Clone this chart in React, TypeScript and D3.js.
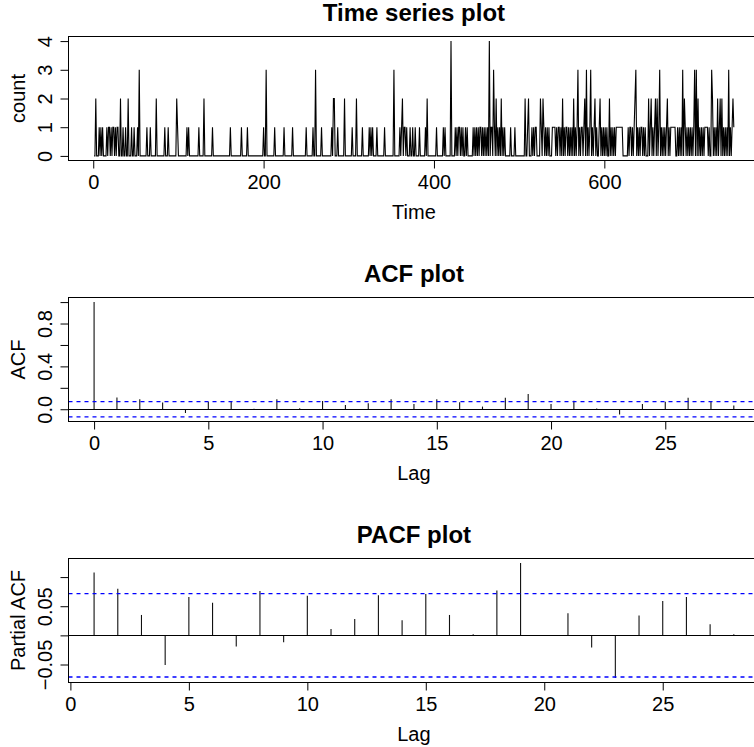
import React, { useEffect, useRef } from 'react';
import * as d3 from 'd3';

// counts per time step (one digit per step, 50 per row)
const countRows = [
  '00200010101000010110101101011002001001002000100100',
  '01030000000010001000000200000000010001000000000210',
  '00000000010100000000000100000200000000010000000000',
  '00000000001000000000000100000010000000000000000001',
  '00300000000010000000000100000000010000000000000001',
  '00000001003000000100000000000102200010000000200000',
  '00010000200000010000000101010000100000000100000000',
  '00300000010120110100010010010000100000010200000000',
  '00100000001010000004000010101101010010100000010101',
  '01011010101010401103102010102010100000010000100000',
  '00000020012000101011000021021010101000111101011010',
  '20101101010102010130101101203010130101201001201010',
  '10100201010101111111100000010110101230101011010100',
  '02012010120201301010101201011111100101010302101010',
  '10101303020101010111101003201010201202010101030101',
  '21',
];
const counts: number[] = countRows.join('').split('').map(Number);

// autocorrelations, lags 0..28
const acfValues = [
  1.0, 0.11, 0.093, 0.062, -0.035, 0.071, 0.071, 0.005, 0.093, 0.01,
  0.077, 0.04, 0.056, 0.093, 0.05, 0.093, 0.065, 0.025, 0.108, 0.142,
  0.05, 0.08, 0.006, -0.05, 0.05, 0.071, 0.108, 0.077, 0.034,
];
// partial autocorrelations, lags 1..28
const pacfValues = [
  0.108, 0.08, 0.035, -0.051, 0.066, 0.056, -0.019, 0.076, -0.012, 0.068,
  0.011, 0.028, 0.069, 0.026, 0.071, 0.035, 0.002, 0.077, 0.124, -0.001,
  0.038, -0.021, -0.073, 0.034, 0.059, 0.066, 0.019, 0.002,
];

const timeTicks = [0, 200, 400, 600];
const countTicks = [0, 1, 2, 3, 4];
const lagTicks = [0, 5, 10, 15, 20, 25];
const acfTicks = [0, 0.2, 0.4, 0.6, 0.8, 1.0];
const acfTickLabels = ['0.0', '', '0.4', '', '0.8', ''];
const pacfTicks = [-0.05, 0, 0.05, 0.1];
const pacfTickLabels = ['\u22120.05', '', '0.05', ''];

const FONT = '"Liberation Sans", Arial, sans-serif';
const left = 68.5;
const right = 759.4;

// R style 4% axis expansion
const rPad = (lo: number, hi: number): [number, number] => {
  const d = (hi - lo) * 0.04;
  return [lo - d, hi + d];
};

// snap a horizontal line onto a pixel row so it stays crisp
const crisp = (v: number) => Math.round(v - 0.5) + 0.5;

const App = () => {
  const svgRef = useRef<SVGSVGElement>(null);

  useEffect(() => {
    const svg = d3.select(svgRef.current);
    svg.selectAll('*').remove();

    svg.append('rect').attr('width', 754).attr('height', 747).attr('fill', '#fff');

    const frame = (top: number, bottom: number, title: string, xLab: string, yLab: string) => {
      const cx = (left + right) / 2;
      svg.append('text')
        .attr('x', cx).attr('y', top - 16)
        .attr('text-anchor', 'middle')
        .attr('font-family', FONT).attr('font-size', 24).attr('font-weight', 'bold')
        .text(title);
      svg.append('text')
        .attr('x', cx).attr('y', bottom + 58.5)
        .attr('text-anchor', 'middle')
        .attr('font-family', FONT).attr('font-size', 20)
        .text(xLab);
      svg.append('text')
        .attr('transform', `translate(25,${(top + bottom) / 2}) rotate(-90)`)
        .attr('text-anchor', 'middle')
        .attr('font-family', FONT).attr('font-size', 20)
        .text(yLab);
    };

    const box = (top: number, bottom: number) => {
      svg.append('rect')
        .attr('x', left).attr('y', top)
        .attr('width', right - left).attr('height', bottom - top)
        .attr('fill', 'none').attr('stroke', '#000').attr('stroke-width', 1);
    };

    const xAxis = (x: d3.ScaleLinear<number, number>, ticks: number[], bottom: number) => {
      const g = svg.append('g')
        .attr('transform', `translate(0,${bottom})`)
        .call(d3.axisBottom(x).tickValues(ticks).tickSize(8).tickSizeOuter(0).tickFormat(d3.format('d')));
      g.select('.domain').remove();
      g.attr('font-family', FONT).attr('font-size', 20);
      g.selectAll('text').attr('y', 28.5).attr('dy', null);
    };

    const yAxis = (y: d3.ScaleLinear<number, number>, ticks: number[], labels: string[]) => {
      const g = svg.append('g')
        .attr('transform', `translate(${left},0)`)
        .call(d3.axisLeft(y).tickValues(ticks).tickSize(8).tickSizeOuter(0)
          .tickFormat((d, i) => labels[i]));
      g.select('.domain').remove();
      g.attr('font-family', FONT).attr('font-size', 20);
      g.selectAll('text')
        .attr('x', null).attr('dy', null)
        .attr('text-anchor', 'middle')
        .attr('transform', 'translate(-16.5,0) rotate(-90)');
    };

    const n = counts.length;
    const ci = 1.96 / Math.sqrt(n);

    // ---- time series panel
    {
      const top = 36.5, bottom = 160.5;
      const x = d3.scaleLinear().domain(rPad(1, n)).range([left, right]);
      const ext = d3.extent(counts) as [number, number];
      const y = d3.scaleLinear().domain(rPad(ext[0], ext[1])).range([bottom, top]);
      const line = d3.line<number>().x((d, i) => x(i + 1)).y(d => y(d));
      svg.append('path').datum(counts)
        .attr('d', line)
        .attr('fill', 'none').attr('stroke', '#000').attr('stroke-width', 1.1);
      box(top, bottom);
      xAxis(x, timeTicks, bottom);
      yAxis(y, countTicks, countTicks.map(String));
      frame(top, bottom, 'Time series plot', 'Time', 'count');
    }

    const corrPanel = (
      top: number, bottom: number, values: number[], firstLag: number,
      ticks: number[], labels: string[], title: string, yLab: string,
    ) => {
      const lags = values.map((_, i) => i + firstLag);
      const x = d3.scaleLinear().domain(rPad(firstLag, lags[lags.length - 1])).range([left, right]);
      const lo = Math.min(d3.min(values) as number, -ci);
      const hi = Math.max(d3.max(values) as number, ci);
      const y = d3.scaleLinear().domain(rPad(lo, hi)).range([bottom, top]);
      const y0 = crisp(y(0));

      svg.append('g').selectAll('line')
        .data(values)
        .join('line')
        .attr('x1', (d, i) => x(lags[i])).attr('x2', (d, i) => x(lags[i]))
        .attr('y1', y0).attr('y2', d => y(d))
        .attr('stroke', '#111').attr('stroke-width', 1.1);

      svg.append('line')
        .attr('x1', left).attr('x2', right).attr('y1', y0).attr('y2', y0)
        .attr('stroke', '#000').attr('stroke-width', 1);

      // confidence bounds, drawn after the spikes so they stay blue
      [ci, -ci].forEach(c => {
        svg.append('line')
          .attr('x1', left).attr('x2', right).attr('y1', y(c)).attr('y2', y(c))
          .attr('stroke', 'blue').attr('stroke-width', 1.3).attr('stroke-dasharray', '4,4');
      });

      box(top, bottom);
      xAxis(x, lagTicks, bottom);
      yAxis(y, ticks, labels);
      frame(top, bottom, title, 'Lag', yLab);
    };

    corrPanel(297.5, 421.5, acfValues, 0, acfTicks, acfTickLabels, 'ACF plot', 'ACF');
    corrPanel(558.5, 682.5, pacfValues, 1, pacfTicks, pacfTickLabels, 'PACF plot', 'Partial ACF');
  }, []);

  return (
    <svg
      ref={svgRef}
      width={754}
      height={747}
      style={{ position: 'absolute', left: 0, top: 0, display: 'block' }}
    />
  );
};

export default App;
